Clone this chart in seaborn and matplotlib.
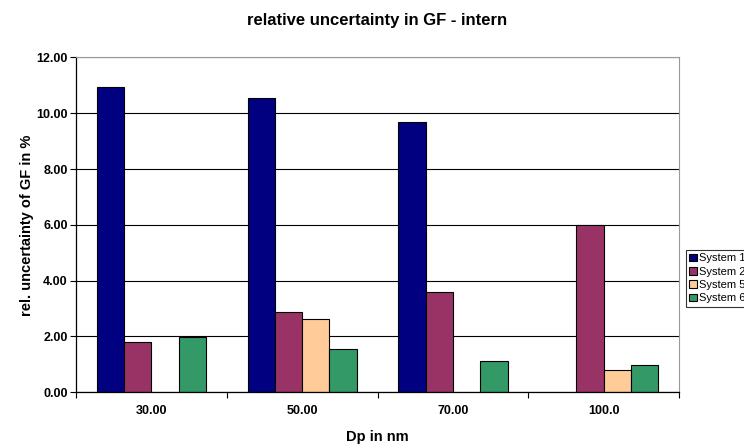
import matplotlib.pyplot as plt
import numpy as np
import pandas as pd
import seaborn as sns

# values
diameters = ['30.00', '50.00', '70.00', '100.0']
systems = ['System 1', 'System 2', 'System 5', 'System 6']
system_1 = [10.95, 10.53, 9.69, np.nan]
system_2 = [1.79, 2.89, 3.58, 5.98]
system_5 = [np.nan, 2.61, np.nan, 0.80]
system_6 = [1.99, 1.55, 1.12, 0.98]
colors = ['#000080', '#993366', '#FFCC99', '#339966']

df = pd.DataFrame({'Dp': diameters * 4,
                   'system': np.repeat(systems, 4),
                   'value': system_1 + system_2 + system_5 + system_6})

sns.set_style('white')
plt.rcParams['font.family'] = ['Liberation Sans', 'DejaVu Sans']
plt.rcParams.update({'text.color': 'black', 'axes.labelcolor': 'black',
                     'xtick.color': 'black', 'ytick.color': 'black'})

fig = plt.figure(figsize=(7.44, 4.48), dpi=100)
ax = fig.add_axes([0.1022, 0.1243, 0.8105, 0.7477])

sns.barplot(data=df, x='Dp', y='value', hue='system', hue_order=systems,
            palette=colors, width=0.725, gap=0, edgecolor='black', linewidth=0.8,
            saturation=1, ax=ax)

ax.set_ylim(0, 12)
ax.set_xlim(-0.5, 3.5)
ax.set_yticks(np.arange(0, 12.01, 2))
ax.set_yticklabels([f'{v:.2f}' for v in np.arange(0, 12.01, 2)], fontsize=9, fontweight='bold')
ax.yaxis.grid(True, color='black', linewidth=0.8)
ax.set_axisbelow(True)

# labels centred, ticks at category boundaries
ax.set_xticks(range(4))
ax.set_xticklabels(diameters, fontsize=9, fontweight='bold')
ax.tick_params(axis='x', which='major', length=0, pad=9)
ax.set_xticks(np.arange(-0.5, 3.6, 1), minor=True)
ax.tick_params(axis='x', which='minor', length=4, width=0.8, direction='out', color='black', bottom=True)
ax.tick_params(axis='y', length=4, width=0.8, direction='out', color='black', left=True, pad=2)

for side in ['left', 'bottom']:
    ax.spines[side].set_color('black')
    ax.spines[side].set_linewidth(0.9)
for side in ['top', 'right']:
    ax.spines[side].set_color('#999999')
    ax.spines[side].set_linewidth(0.8)

ax.set_xlabel('Dp in nm', fontsize=10.5, fontweight='bold', color='black')
ax.xaxis.set_label_coords(0.5, -0.112)
ax.set_ylabel('rel. uncertainty of GF in %', fontsize=10.5, fontweight='bold', color='black')
ax.yaxis.set_label_coords(-0.07, 0.5)
fig.suptitle('relative uncertainty in GF - intern', fontsize=12, fontweight='bold',
             color='black', x=0.507, y=0.972)

leg = ax.legend(loc='upper left', bbox_to_anchor=(1.011, 0.425), borderaxespad=0,
                fontsize=8, frameon=True, fancybox=False, handlelength=0.7, handleheight=0.7,
                handletextpad=0.2, labelspacing=0.3, borderpad=0.3, title=None)
leg.get_frame().set_edgecolor('black')
leg.get_frame().set_linewidth(0.8)
for t in leg.get_texts():
    t.set_color('black')

fig.savefig('out.png', dpi=100)
